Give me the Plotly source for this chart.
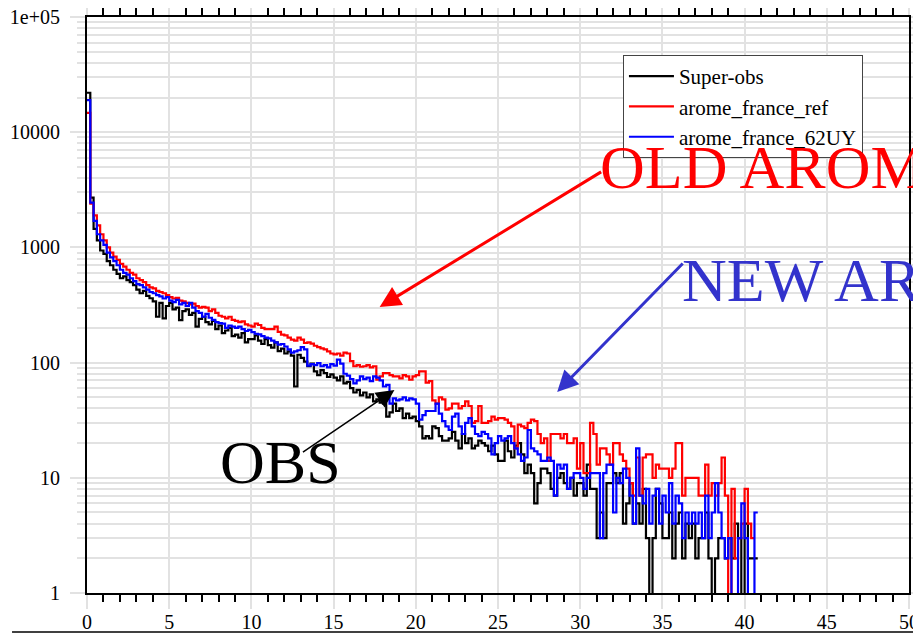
import math
import plotly.graph_objects as go

# ---------------- data (counts per 0.2-wide bin, starting at 0) ----------------
bin_width = 0.2

obs_counts = [
    22000, 2700, 1450, 1150, 940, 880, 760, 700, 640, 590,
    540, 560, 520, 500, 470, 430, 400, 420, 380, 362,
    340, 250, 330, 242, 310, 330, 290, 300, 234, 280,
    290, 260, 270, 205, 240, 250, 225, 215, 230, 195,
    210, 180, 190, 200, 170, 175, 165, 180, 150, 160,
    160, 172, 155, 145, 160, 142, 135, 150, 126, 132,
    120, 125, 115, 62, 117, 110, 102, 93, 98, 84,
    78, 86, 81, 75, 79, 74, 70, 76, 66, 68,
    60, 55, 58, 52, 55, 50, 53, 46, 48, 45,
    44, 34, 37, 44, 38, 40, 33, 36, 33, 34,
    31, 28, 22, 23, 22, 28, 27, 23, 21, 21,
    22, 25, 21, 18, 24, 20, 22, 18, 19, 21,
    20, 19, 17, 19, 16, 14, 14, 21, 17, 15,
    19, 20, 16, 11, 13, 11, 6, 9, 12, 12,
    11, 8, 7, 10, 11, 9, 8, 10, 7, 9,
    9, 7, 13, 8, 8, 3, 5, 3, 9, 9,
    11, 9, 11, 4, 6, 9, 4, 6, 4, 8,
    3, 0, 3, 8, 6, 3, 3, 5, 2, 4,
    5, 2, 4, 3, 4, 2, 3, 3, 5, 2,
    0, 2, 3, 3, 2, 3, 2, 4, 3, 0,
    4, 2, 2, 2,
]

ref_counts = [
    14700, 2400, 1900, 1550, 1300, 1150, 1000, 900, 830, 780,
    720, 680, 640, 600, 580, 540, 520, 500, 470, 450,
    440, 420, 410, 400, 385, 370, 360, 365, 345, 340,
    330, 320, 325, 310, 300, 305, 300, 280, 290, 270,
    255, 250, 242, 250, 235, 230, 225, 228, 215, 210,
    205, 218, 212, 200, 195, 195, 195, 205, 185, 175,
    172, 165, 158, 155, 165, 158, 148, 150, 146, 140,
    136, 133, 130, 125, 120, 118, 120, 115, 122, 120,
    103, 93, 95, 92, 93, 95, 91, 93, 71, 76,
    81, 81, 78, 76, 76, 73, 78, 76, 71, 76,
    78, 84, 84, 67, 69, 47, 44, 50, 48, 39,
    40, 44, 44, 40, 42, 46, 42, 30, 31, 42,
    30, 30, 31, 34, 32, 33, 33, 32, 30, 28,
    18, 29, 28, 27, 30, 32, 31, 24, 20, 22,
    14, 24, 24, 24, 22, 24, 20, 20, 22, 12,
    20, 11, 11, 30, 24, 13, 18, 18, 16, 13,
    20, 20, 16, 14, 12, 9, 7, 15, 7, 15,
    16, 16, 10, 13, 12, 12, 12, 10, 12, 20,
    20, 7, 10, 10, 10, 10, 7, 7, 13, 7,
    9, 7, 9, 15, 7, 0, 8, 2, 3, 4,
    8, 4, 3,
]

new_counts = [
    19000, 2450, 1700, 1300, 1150, 1050, 900, 820, 760, 700,
    640, 600, 580, 540, 510, 480, 470, 450, 430, 410,
    400, 385, 375, 360, 370, 345, 335, 350, 320, 330,
    310, 330, 300, 280, 270, 250, 265, 245, 235, 225,
    220, 218, 200, 210, 205, 200, 205, 195, 188, 192,
    184, 178, 176, 170, 165, 162, 155, 150, 143, 145,
    138, 130, 122, 125, 128, 136, 130, 94, 97, 95,
    99, 93, 95, 91, 97, 94, 106, 98, 80, 77,
    72, 66, 70, 76, 72, 74, 69, 76, 74, 70,
    62, 64, 44, 49, 47, 48, 50, 47, 49, 48,
    44, 32, 35, 38, 38, 38, 44, 36, 31, 28,
    26, 34, 36, 28, 24, 30, 33, 28, 24, 23,
    25, 24, 22, 16, 20, 23, 21, 22, 23, 20,
    18, 16, 14, 15, 26, 18, 17, 16, 14, 14,
    15, 14, 7, 13, 12, 13, 8, 10, 11, 11,
    10, 8, 10, 11, 11, 11, 3, 11, 13, 13,
    5, 10, 9, 12, 10, 7, 4, 18, 7, 6,
    8, 4, 7, 8, 4, 7, 5, 9, 4, 7,
    6, 3, 5, 4, 5, 4, 5, 3, 7, 3,
    5, 9, 5, 3, 2, 3, 0, 0, 3, 6,
    3, 0, 0, 5,
]

series_names = ["Super-obs", "arome_france_ref", "arome_france_62UY"]
series_colors = ["#000000", "#ff0000", "#0000ff"]

y_tick_vals = [1, 10, 100, 1000, 10000, 100000]
y_tick_text = ["1", "10", "100", "1000", "10000", "1e+05"]

# ---------------- figure ----------------
def step_xy(counts):
    xs = [round(i * bin_width, 6) for i in range(len(counts) + 1)]
    ys = [c if c > 0 else 0.5 for c in counts]
    ys = ys + [ys[-1]]
    return xs, ys

fig = go.Figure()
for counts, name, color in zip([obs_counts, ref_counts, new_counts], series_names, series_colors):
    xs, ys = step_xy(counts)
    fig.add_trace(go.Scatter(x=xs, y=ys, mode="lines", name=name,
                             line=dict(color=color, width=2.2, shape="hv")))

grid_c = "#e2e2e2"
minor_vals = [m * 10 ** d for d in range(5) for m in range(2, 10)]

fig.update_layout(
    width=913, height=626,
    margin=dict(l=79, r=12, t=9, b=41, autoexpand=False),
    paper_bgcolor="white", plot_bgcolor="white",
    font=dict(family="Liberation Serif", size=20, color="black"),
    legend=dict(x=0.652, y=0.934, xanchor="left", yanchor="top",
                bgcolor="white", bordercolor="#444444", borderwidth=1,
                font=dict(size=21), tracegroupgap=0, itemwidth=45),
    xaxis=dict(range=[0, 50], tickmode="linear", tick0=0, dtick=5, automargin=False,
               ticks="outside", ticklen=14, tickcolor=grid_c, tickwidth=1.5,
               showgrid=True, gridcolor=grid_c, gridwidth=1.5,
               showline=True, linecolor="black", linewidth=2, mirror="ticks",
               zeroline=False, ticklabelstandoff=-4, ticklabeloverflow="allow",
               minor=dict(tickmode="linear", tick0=0, dtick=1, ticks="outside",
                          ticklen=7, tickcolor="black", tickwidth=1.5, showgrid=False)),
    yaxis=dict(type="log", range=[0, 5], tickmode="array", automargin=False,
               tickvals=y_tick_vals, ticktext=y_tick_text,
               ticks="outside", ticklen=15, tickcolor=grid_c, tickwidth=1.5,
               showgrid=True, gridcolor=grid_c, gridwidth=1.5,
               showline=True, linecolor="black", linewidth=2, mirror="ticks",
               zeroline=False, ticklabelstandoff=6, ticklabeloverflow="allow",
               minor=dict(tickmode="array", tickvals=minor_vals, ticks="outside",
                          ticklen=8, tickcolor=grid_c, tickwidth=1.5,
                          showgrid=True, gridcolor=grid_c, gridwidth=1.5)),
)

def arrow(x, y, ax, ay, color, width, size):
    fig.add_annotation(x=x, y=math.log10(y), ax=ax, ay=ay,
                       xref="x", yref="y",
                       text="", showarrow=True, arrowhead=2, arrowsize=size,
                       arrowwidth=width, arrowcolor=color, standoff=0, startstandoff=0)

arrow(17.8, 304, 223, -136, "#ff0000", 3, 1.4)
arrow(28.6, 55.6, 127, -130, "#3333cc", 3, 1.4)
arrow(18.7, 57.8, -93, 63, "#000000", 1.5, 2.4)

big = dict(family="Liberation Serif", size=62)
fig.add_annotation(xref="paper", yref="paper", x=0.6217, y=0.740, xanchor="left", yanchor="middle",
                   text="OLD AROME", showarrow=False, font=dict(color="#ff0000", **big))
fig.add_annotation(xref="paper", yref="paper", x=0.7213, y=0.5434, xanchor="left", yanchor="middle",
                   text="NEW AROME", showarrow=False, font=dict(color="#3333cc", **big))
fig.add_annotation(xref="paper", yref="paper", x=0.1593, y=0.2274, xanchor="left", yanchor="middle",
                   text="OBS", showarrow=False, font=dict(color="#000000", **big))

fig.add_shape(type="line", xref="paper", yref="paper", x0=-0.0912, x1=1.02, y0=-0.0677, y1=-0.0677,
              line=dict(color="black", width=1.5))

fig.write_html("out.html")
